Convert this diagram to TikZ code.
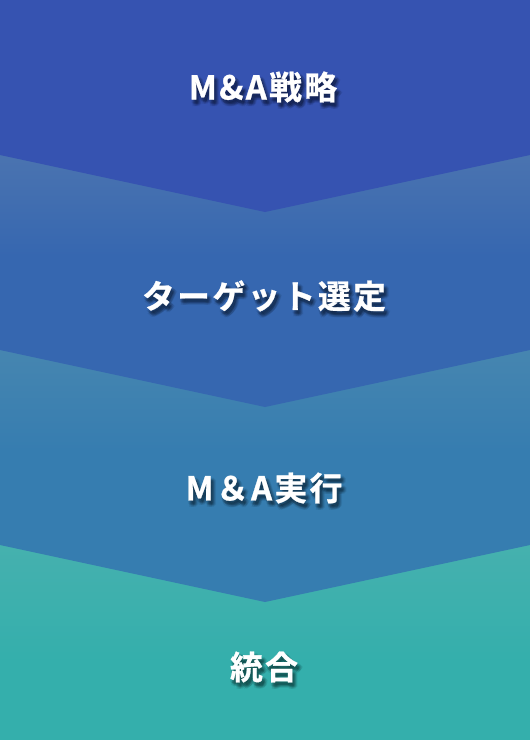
\documentclass[tikz,border=0pt]{standalone}
\usepackage{fontspec}
\newfontfamily\jpfont[LetterSpace=7,FakeBold=0.8]{Noto Sans CJK JP Bold}
\newfontfamily\jpshadow[LetterSpace=7,FakeBold=3]{Noto Sans CJK JP Bold}
\definecolor{bOneBase}{RGB}{54,83,177}
\definecolor{bTwoTop}{RGB}{100,131,177}
\definecolor{bTwoBase}{RGB}{54,103,176}
\definecolor{bThreeTop}{RGB}{90,144,176}
\definecolor{bThreeBase}{RGB}{54,125,176}
\definecolor{bFourTop}{RGB}{84,178,176}
\definecolor{bFourBase}{RGB}{52,175,172}
\pgfdeclareverticalshading{shTwo}{100bp}{color(0bp)=(bTwoBase); color(55bp)=(bTwoBase); color(100bp)=(bTwoTop)}
\pgfdeclareverticalshading{shThree}{100bp}{color(0bp)=(bThreeBase); color(55bp)=(bThreeBase); color(100bp)=(bThreeTop)}
\pgfdeclareverticalshading{shFour}{100bp}{color(0bp)=(bFourBase); color(45bp)=(bFourBase); color(100bp)=(bFourTop)}
\tikzset{
  label text/.style={text=white, font=\jpfont\fontsize{33}{36}\selectfont, inner sep=0pt},
  shadow text/.style={text=black, font=\jpshadow\fontsize{33}{36}\selectfont, inner sep=0pt, text opacity=0.045},
}
\newcommand{\shadowlabel}[3]{%
  \foreach \dx/\dy in {2/3,3/4,1/4,3/2,2/5,4/5,0/3,4/3,2/4,1/6,5/4,3/6}{
    \node[shadow text] at ([xshift=\dx bp,yshift=-\dy bp]#1) {#3};
  }
  \node[label text] (#2) at (#1) {#3};
}
\begin{document}
\begin{tikzpicture}[x=1bp,y=-1bp]
\useasboundingbox (0,0) rectangle (530,740);
% band 4
\shade[shading=shFour] (0,545) rectangle (530,740);
% band 3
\shade[shading=shThree] (0,350) -- (530,350) -- (530,545) -- (265,602) -- (0,545) -- cycle;
% band 2
\shade[shading=shTwo] (0,155) -- (530,155) -- (530,350) -- (265,407) -- (0,350) -- cycle;
% band 1
\fill[bOneBase] (0,0) -- (530,0) -- (530,155) -- (265,212) -- (0,155) -- cycle;
\coordinate (p1) at (263,87);
\coordinate (p2) at (264,296);
\coordinate (p3) at (264,488);
\coordinate (p4) at (264,667);
\shadowlabel{p1}{t1}{M\&A戦略}
\shadowlabel{p2}{t2}{ターゲット選定}
\shadowlabel{p3}{t3}{M＆A実行}
\shadowlabel{p4}{t4}{統合}
\end{tikzpicture}
\end{document}
